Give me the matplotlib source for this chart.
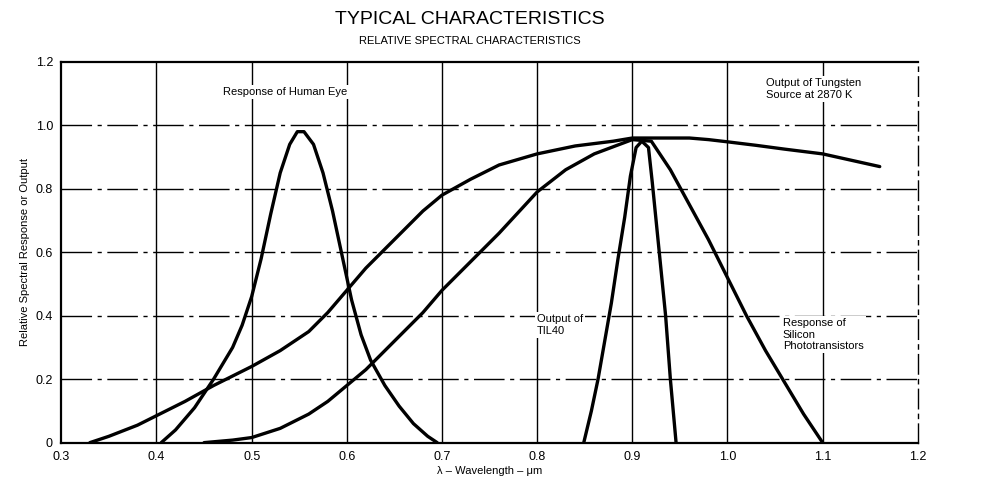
import numpy as np
import matplotlib
matplotlib.use("Agg")
import matplotlib.pyplot as plt

# values (wavelength in um, relative output)
eye_x = [0.405, 0.42, 0.44, 0.46, 0.48, 0.49, 0.50, 0.51, 0.52, 0.53, 0.54, 0.548, 0.555,
         0.565, 0.575, 0.585, 0.595, 0.605, 0.615, 0.625, 0.64, 0.655, 0.67, 0.685, 0.695]
eye_y = [0.0, 0.04, 0.11, 0.20, 0.30, 0.37, 0.46, 0.58, 0.72, 0.85, 0.94, 0.98, 0.98,
         0.94, 0.85, 0.73, 0.59, 0.45, 0.34, 0.26, 0.18, 0.115, 0.06, 0.02, 0.0]

tung_x = [0.33, 0.35, 0.38, 0.40, 0.43, 0.46, 0.50, 0.53, 0.56, 0.58, 0.60, 0.62, 0.65, 0.68,
          0.70, 0.73, 0.76, 0.80, 0.84, 0.88, 0.90, 0.93, 0.96, 0.98, 1.00, 1.03, 1.06, 1.10,
          1.13, 1.16]
tung_y = [0.0, 0.02, 0.055, 0.085, 0.13, 0.18, 0.24, 0.29, 0.35, 0.41, 0.48, 0.55, 0.64, 0.73,
          0.78, 0.83, 0.875, 0.91, 0.935, 0.95, 0.96, 0.96, 0.96, 0.955, 0.948, 0.937, 0.925,
          0.91, 0.89, 0.87]

si_x = [0.45, 0.48, 0.50, 0.53, 0.56, 0.58, 0.60, 0.62, 0.65, 0.68, 0.70, 0.73, 0.76, 0.80,
        0.83, 0.86, 0.90, 0.92, 0.94, 0.96, 0.98, 1.00, 1.02, 1.04, 1.06, 1.08, 1.10]
si_y = [0.0, 0.008, 0.016, 0.045, 0.09, 0.13, 0.18, 0.23, 0.32, 0.41, 0.48, 0.57, 0.66, 0.79,
        0.86, 0.91, 0.955, 0.95, 0.86, 0.75, 0.64, 0.52, 0.40, 0.29, 0.19, 0.09, 0.0]

til_x = [0.849, 0.857, 0.864, 0.871, 0.878, 0.885, 0.892, 0.898, 0.904, 0.910, 0.917, 0.921,
         0.925, 0.930, 0.935, 0.940, 0.946]
til_y = [0.0, 0.10, 0.20, 0.32, 0.44, 0.58, 0.71, 0.84, 0.93, 0.95, 0.93, 0.82, 0.70, 0.55,
         0.40, 0.20, 0.0]

x_ticks = [0.3, 0.4, 0.5, 0.6, 0.7, 0.8, 0.9, 1.0, 1.1, 1.2]
x_labels = ["0.3", "0.4", "0.5", "0.6", "0.7", "0.8", "0.9", "1.0", "1.1", "1.2"]
y_ticks = [0, 0.2, 0.4, 0.6, 0.8, 1.0, 1.2]
y_labels = ["0", "0.2", "0.4", "0.6", "0.8", "1.0", "1.2"]

plt.rcParams['font.family'] = ['Liberation Sans', 'DejaVu Sans']

fig = plt.figure(figsize=(9.89, 5.03), dpi=100)
ax = fig.add_axes([0.062, 0.12, 0.866, 0.757])

# grid: solid verticals, dash-dot horizontals
for xv in x_ticks[1:-1]:
	ax.axvline(xv, color='black', lw=1.0, zorder=1)
for yv in y_ticks[1:-1]:
	ax.axhline(yv, color='black', lw=1.0, dashes=(22, 4, 3, 4), zorder=1)

for xs, ys in ((eye_x, eye_y), (tung_x, tung_y), (si_x, si_y), (til_x, til_y)):
	ax.plot(xs, ys, color='black', lw=2.4, solid_joinstyle='round', solid_capstyle='round', zorder=3)

ax.set_xlim(0.3, 1.2)
ax.set_ylim(0, 1.2)
ax.set_xticks(x_ticks)
ax.set_xticklabels(x_labels)
ax.set_yticks(y_ticks)
ax.set_yticklabels(y_labels)
ax.tick_params(length=0, labelsize=9, pad=6)
for s in ('top', 'left', 'bottom'):
	ax.spines[s].set_linewidth(1.6)
ax.spines['right'].set_linewidth(1.0)
ax.spines['right'].set_linestyle((0, (14, 4, 3, 4)))

ax.set_xlabel("λ – Wavelength – μm", fontsize=8, labelpad=2)
ax.set_ylabel("Relative Spectral Response or Output", fontsize=8, labelpad=4)

box = dict(facecolor='white', edgecolor='none', pad=1.5)
ax.text(0.535, 1.105, "Response of Human Eye", fontsize=8, ha='center', va='center',
	bbox=box, zorder=4)
ax.text(1.04, 1.115, "Output of Tungsten\nSource at 2870 K", fontsize=8, ha='left', va='center',
	linespacing=1.3, bbox=box, zorder=4)
ax.text(0.80, 0.37, "Output of\nTIL40", fontsize=8, ha='left', va='center',
	linespacing=1.2, bbox=box, zorder=4)
ax.text(1.058, 0.34, "Response of\nSilicon\nPhototransistors", fontsize=8, ha='left', va='center',
	linespacing=1.2, bbox=box, zorder=4)

fig.text(0.475, 0.962, "TYPICAL CHARACTERISTICS", fontsize=14, ha='center', va='center')
fig.text(0.475, 0.918, "RELATIVE SPECTRAL CHARACTERISTICS", fontsize=8, ha='center', va='center')

fig.savefig("out.png", dpi=100)
